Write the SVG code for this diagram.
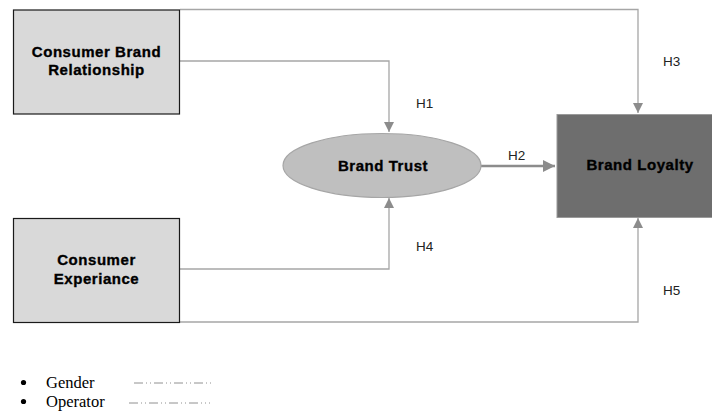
<svg xmlns="http://www.w3.org/2000/svg" width="712" height="412" viewBox="0 0 712 412">
<style>
.box{fill:#d9d9d9;stroke:#1a1a1a;stroke-width:1.2}
.lbl{font-family:"Liberation Sans",Arial,sans-serif;font-weight:bold;font-size:15px;letter-spacing:0.55px;fill:#000;stroke:#000;stroke-width:0.35;text-anchor:middle}
.h{font-family:"Liberation Sans",Arial,sans-serif;font-size:13.5px;fill:#222}
.con{fill:none;stroke:#a6a6a6;stroke-width:1.3}
.ser{font-family:"Liberation Serif","Times New Roman",serif;font-size:16.5px;fill:#000}
.dd{stroke:#909090;stroke-width:1;stroke-dasharray:9 3 1 3 1 3}
</style>
<defs>
<marker id="ah" viewBox="0 0 10 10" refX="10" refY="5" markerWidth="10" markerHeight="10" markerUnits="userSpaceOnUse" orient="auto">
<path d="M0,0 L10,5 L0,10 Z" fill="#8c8c8c"/>
</marker>
<marker id="ah2" viewBox="0 0 10 10" refX="10" refY="5" markerWidth="14" markerHeight="12" markerUnits="userSpaceOnUse" orient="auto">
<path d="M0,0 L10,5 L0,10 Z" fill="#8c8c8c"/>
</marker>
</defs>
<g id="connectors">
<polyline class="con" points="180,9.5 638,9.5 638,113" marker-end="url(#ah)"/>
<polyline class="con" points="180,61 389,61 389,132" marker-end="url(#ah)"/>
<polyline class="con" points="180,269 389,269 389,198" marker-end="url(#ah)"/>
<polyline class="con" points="180,322 638,322 638,218" marker-end="url(#ah)"/>
<line x1="481" y1="166" x2="555" y2="166" stroke="#8c8c8c" stroke-width="2.5" marker-end="url(#ah2)"/>
<text class="h" x="416" y="108">H1</text>
<text class="h" x="508" y="160">H2</text>
<text class="h" x="663" y="66">H3</text>
<text class="h" x="416" y="251">H4</text>
<text class="h" x="663" y="295">H5</text>
</g>
<g id="consumer-brand-relationship">
<rect class="box" x="13.5" y="10" width="166" height="104"/>
<text class="lbl" x="96.5" y="57">Consumer Brand</text>
<text class="lbl" x="96.5" y="75">Relationship</text>
</g>
<g id="consumer-experiance">
<rect class="box" x="13.5" y="218.5" width="166" height="104"/>
<text class="lbl" x="96.5" y="265">Consumer</text>
<text class="lbl" x="96.5" y="284">Experiance</text>
</g>
<g id="brand-trust">
<ellipse cx="382" cy="165.5" rx="99" ry="32" fill="#bfbfbf" stroke="#a6a6a6" stroke-width="1.2"/>
<text class="lbl" x="383" y="171">Brand Trust</text>
</g>
<g id="brand-loyalty">
<rect x="557" y="114.5" width="156" height="103" fill="#6e6e6e" stroke="#9a9a9a" stroke-width="1"/>
<text class="lbl" x="640" y="170">Brand Loyalty</text>
</g>
<g id="legend">
<circle cx="23.5" cy="382.5" r="2.6" fill="#000"/>
<text class="ser" x="46" y="388">Gender</text>
<line class="dd" x1="134" y1="383" x2="214" y2="383"/>
<circle cx="23.5" cy="401.5" r="2.6" fill="#000"/>
<text class="ser" x="46" y="407">Operator</text>
<line class="dd" x1="129" y1="403" x2="210" y2="403"/>
</g>
</svg>
